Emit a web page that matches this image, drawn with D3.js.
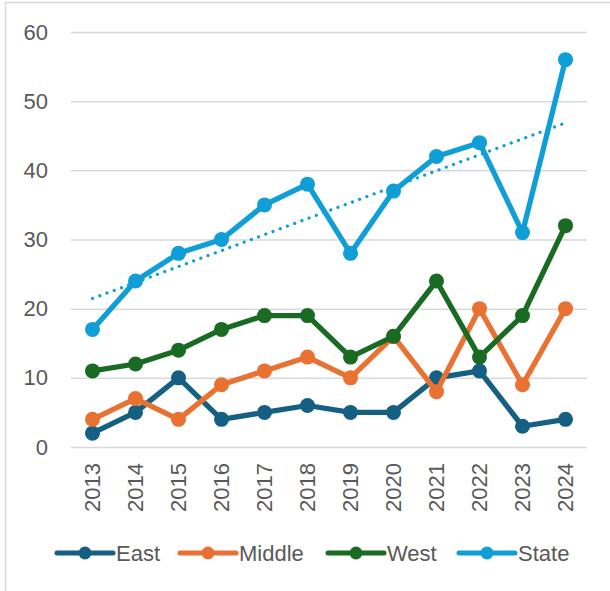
<!DOCTYPE html>
<html>
<head>
<meta charset="utf-8">
<script src="https://cdn.jsdelivr.net/npm/d3@7"></script>
<style>
  body { margin: 0; background: #fff; }
  text { font-family: "Liberation Sans", Arial, sans-serif; fill: #595959; }
</style>
</head>
<body>
<script>
const years = ["2013", "2014", "2015", "2016", "2017", "2018", "2019", "2020", "2021", "2022", "2023", "2024"];
const east = [2, 5, 10, 4, 5, 6, 5, 5, 10, 11, 3, 4];
const middle = [4, 7, 4, 9, 11, 13, 10, 16, 8, 20, 9, 20];
const west = [11, 12, 14, 17, 19, 19, 13, 16, 24, 13, 19, 32];
const state = [17, 24, 28, 30, 35, 38, 28, 37, 42, 44, 31, 56];
const yTicks = [0, 10, 20, 30, 40, 50, 60];

const seriesNames = ["East", "Middle", "West", "State"];
const seriesColors = ["#156082", "#E97132", "#196B24", "#0F9ED5"];
const seriesValues = [east, middle, west, state];

const width = 610;
const height = 591;
const margin = {top: 32, right: 23, bottom: 144, left: 71};

const svg = d3.select("body")
    .append("svg")
    .attr("width", width)
    .attr("height", height);

// chart frame
svg.append("rect")
    .attr("x", 5.5)
    .attr("y", 2.5)
    .attr("width", 640)
    .attr("height", 640)
    .attr("fill", "none")
    .attr("stroke", "#d9d9d9")
    .attr("stroke-width", 1.5);

const xScale = d3.scaleBand()
    .domain(years)
    .range([margin.left, width - margin.right]);

const yScale = d3.scaleLinear()
    .domain([0, 60])
    .range([height - margin.bottom, margin.top]);

const cx = d => xScale(d) + xScale.bandwidth() / 2;

// gridlines + y labels
const yAxis = svg.append("g")
    .attr("transform", "translate(" + margin.left + ",0)")
    .call(d3.axisLeft(yScale)
        .tickValues(yTicks)
        .tickSize(-(width - margin.left - margin.right))
        .tickPadding(23));
yAxis.select(".domain").remove();
yAxis.selectAll(".tick line")
    .attr("stroke", "#d9d9d9")
    .attr("stroke-width", 1.5);
yAxis.selectAll(".tick text")
    .style("font-size", "22px")
    .attr("fill", "#595959");

// x labels
const xAxis = svg.append("g")
    .attr("transform", "translate(0," + yScale(0) + ")")
    .call(d3.axisBottom(xScale).tickSize(0).tickPadding(0));
xAxis.select(".domain").remove();
xAxis.selectAll(".tick text")
    .style("font-size", "22px")
    .attr("fill", "#595959")
    .attr("text-anchor", "end")
    .attr("transform", "translate(0,16) rotate(-90)")
    .attr("x", 0)
    .attr("y", 0)
    .attr("dy", "0.35em");

// trendline for State (linear least squares)
const n = state.length;
const xm = d3.mean(state, (d, i) => i + 1);
const ym = d3.mean(state);
const slope = d3.sum(state, (d, i) => (i + 1 - xm) * (d - ym)) / d3.sum(state, (d, i) => (i + 1 - xm) * (i + 1 - xm));
const intercept = ym - slope * xm;
const trend = years.map((y, i) => ({year: y, value: intercept + slope * (i + 1)}));

const lineGen = d3.line()
    .x(d => cx(d.year))
    .y(d => yScale(d.value));

svg.append("path")
    .datum([trend[0], trend[n - 1]])
    .attr("fill", "none")
    .attr("stroke", "#0F9ED5")
    .attr("stroke-width", 3.2)
    .attr("stroke-linecap", "round")
    .attr("stroke-dasharray", "0.1 7.6")
    .attr("d", lineGen);

seriesValues.forEach((vals, k) => {
    const data = years.map((y, i) => ({year: y, value: vals[i]}));
    const g = svg.append("g");
    g.append("path")
        .datum(data)
        .attr("fill", "none")
        .attr("stroke", seriesColors[k])
        .attr("stroke-width", 5.3)
        .attr("stroke-linejoin", "round")
        .attr("d", lineGen);
    g.selectAll("circle")
        .data(data)
        .enter().append("circle")
        .attr("cx", d => cx(d.year))
        .attr("cy", d => yScale(d.value))
        .attr("r", 7.5)
        .attr("fill", seriesColors[k]);
});

// legend
const legendX = [57, 180, 328, 459];
const legendY = 553;
const legend = svg.append("g");
seriesNames.forEach((name, k) => {
    const g = legend.append("g").attr("transform", "translate(" + legendX[k] + "," + legendY + ")");
    g.append("line")
        .attr("x1", 0).attr("x2", 56)
        .attr("y1", 0).attr("y2", 0)
        .attr("stroke", seriesColors[k])
        .attr("stroke-width", 5)
        .attr("stroke-linecap", "round");
    g.append("circle")
        .attr("cx", 28).attr("cy", 0)
        .attr("r", 6.5)
        .attr("fill", seriesColors[k]);
    g.append("text")
        .attr("x", 59)
        .attr("y", 0)
        .attr("dy", "0.35em")
        .style("font-size", "22px")
        .text(name);
});
</script>
</body>
</html>
